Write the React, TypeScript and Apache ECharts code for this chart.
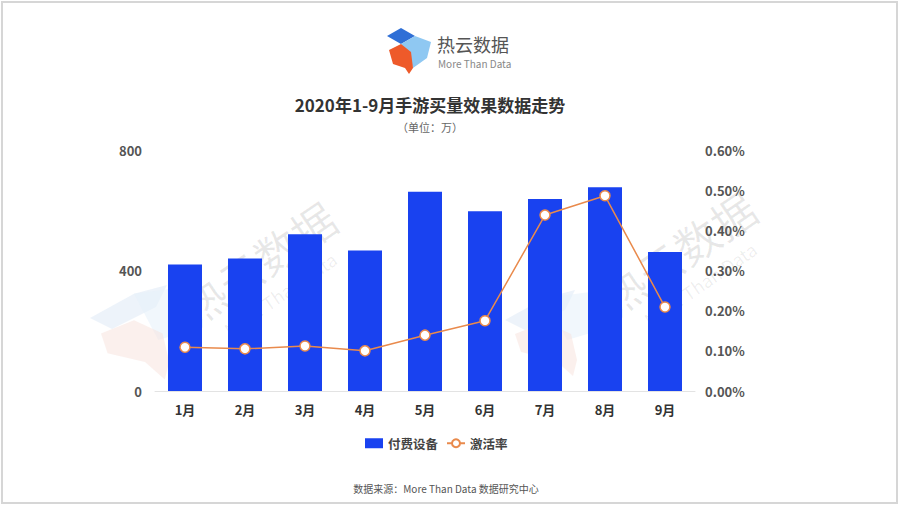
import React, { useEffect, useRef } from "react";
import * as echarts from "echarts";

const months = ["1月", "2月", "3月", "4月", "5月", "6月", "7月", "8月", "9月"];
const paidDevices = [420, 440, 520, 466, 661, 597, 637, 676, 461];
const activationRate = [0.109, 0.105, 0.112, 0.1, 0.139, 0.175, 0.438, 0.486, 0.209];
const leftTicks = { min: 0, max: 800, interval: 400 };
const rightTicks = { min: 0, max: 0.6, interval: 0.1 };

const FONT = "'Noto Sans CJK SC', 'Noto Sans', sans-serif";

function logoShapes(x: number, y: number, s: number, opacity: number) {
  const p = (pts: number[][]) => pts.map(([a, b]) => [x + a * s, y + b * s]);
  return [
    {
      type: "polygon",
      shape: { points: p([[0, 8], [14, 0], [28, 8], [14, 16]]) },
      style: { fill: "#2f6fd6", opacity },
      silent: true,
    },
    {
      type: "polygon",
      shape: { points: p([[14, 16], [28, 8], [44, 14], [40, 30], [26, 40], [22, 28]]) },
      style: { fill: "#8fc8f2", opacity },
      silent: true,
    },
    {
      type: "polygon",
      shape: { points: p([[2, 22], [14, 16], [24, 24], [26, 40], [22, 46], [18, 40], [6, 36]]) },
      style: { fill: "#ee5a2a", opacity },
      silent: true,
    },
  ];
}

function watermarkLogo(x: number, y: number, s: number) {
  const p = (pts: number[][]) => pts.map(([a, b]) => [x + a * s, y + b * s]);
  return [
    {
      type: "polygon",
      shape: { points: p([[0, 30], [40, 8], [70, 0], [60, 20], [20, 40]]) },
      style: { fill: "#d6e5f5", opacity: 0.45 },
      silent: true,
    },
    {
      type: "polygon",
      shape: { points: p([[40, 8], [100, 0], [96, 40], [62, 50]]) },
      style: { fill: "#e6f0fa", opacity: 0.55 },
      silent: true,
    },
    {
      type: "polygon",
      shape: { points: p([[10, 44], [40, 32], [66, 44], [72, 70], [68, 86], [50, 70], [16, 62]]) },
      style: { fill: "#f7e2dc", opacity: 0.5 },
      silent: true,
    },
  ];
}

function watermarkText(cx: number, cy: number) {
  return [
    {
      type: "text",
      x: cx,
      y: cy,
      rotation: 0.6,
      style: {
        text: "热云数据",
        font: `44px ${FONT}`,
        fill: "rgba(0,0,0,0.09)",
        align: "center",
        verticalAlign: "middle",
      },
      silent: true,
    },
    {
      type: "text",
      x: cx + 22,
      y: cy + 32,
      rotation: 0.6,
      style: {
        text: "More Than Data",
        font: `18px ${FONT}`,
        fill: "rgba(0,0,0,0.07)",
        align: "center",
        verticalAlign: "middle",
      },
      silent: true,
    },
  ];
}

export default function App() {
  const ref = useRef<HTMLDivElement>(null);
  useEffect(() => {
    if (!ref.current) return;
    const chart = echarts.init(ref.current, null, { renderer: "svg" });
    chart.setOption({
      animation: false,
      backgroundColor: "#ffffff",
      textStyle: { fontFamily: FONT },
      graphic: [
        {
          type: "rect",
          shape: { x: 2, y: 2, width: 895, height: 501 },
          style: { fill: "none", stroke: "#d6d6d6", lineWidth: 2 },
          silent: true,
          z: -10,
        },
        ...watermarkLogo(90, 285, 1.1),
        ...watermarkLogo(505, 290, 1.0),
        ...watermarkText(258, 262),
        ...watermarkText(678, 252),
        ...logoShapes(387, 28, 1.0, 1),
        {
          type: "text",
          x: 437,
          y: 44,
          style: {
            text: "热云数据",
            font: `18px ${FONT}`,
            fill: "#555555",
            verticalAlign: "middle",
          },
        },
        {
          type: "text",
          x: 438,
          y: 63,
          style: {
            text: "More Than Data",
            font: `10px ${FONT}`,
            fill: "#888888",
            verticalAlign: "middle",
          },
        },
        {
          type: "text",
          x: 430,
          y: 104,
          style: {
            text: "2020年1-9月手游买量效果数据走势",
            font: `bold 17px ${FONT}`,
            fill: "#333333",
            align: "center",
            verticalAlign: "middle",
          },
        },
        {
          type: "text",
          x: 430,
          y: 127,
          style: {
            text: "（单位：万）",
            font: `11px ${FONT}`,
            fill: "#666666",
            align: "center",
            verticalAlign: "middle",
          },
        },
        {
          type: "text",
          x: 446,
          y: 488,
          style: {
            text: "数据来源：More Than Data 数据研究中心",
            font: `10px ${FONT}`,
            fill: "#555555",
            align: "center",
            verticalAlign: "middle",
          },
        },
      ],
      legend: {
        left: 360,
        top: 432,
        itemWidth: 18,
        itemHeight: 10,
        itemGap: 8,
        textStyle: { fontSize: 12.5, fontWeight: "bold", color: "#444", fontFamily: FONT },
        data: [
          { name: "付费设备", icon: "rect" },
          { name: "激活率" },
        ],
      },
      grid: { left: 155, right: 205, top: 150, bottom: 115 },
      xAxis: {
        type: "category",
        data: months,
        axisLine: { lineStyle: { color: "#e3e3e3" } },
        axisTick: { show: false },
        axisLabel: { color: "#333", fontSize: 13, fontWeight: "bold", margin: 12 },
      },
      yAxis: [
        {
          type: "value",
          min: leftTicks.min,
          max: leftTicks.max,
          interval: leftTicks.interval,
          splitLine: { show: false },
          axisLine: { show: false },
          axisTick: { show: false },
          axisLabel: { color: "#555", fontSize: 13, fontWeight: "bold", margin: 13 },
        },
        {
          type: "value",
          min: rightTicks.min,
          max: rightTicks.max,
          interval: rightTicks.interval,
          splitLine: { show: false },
          axisLine: { show: false },
          axisTick: { show: false },
          axisLabel: {
            color: "#555",
            fontSize: 13,
            fontWeight: "bold",
            margin: 10,
            formatter: (v: number) => v.toFixed(2) + "%",
          },
        },
      ],
      series: [
        {
          name: "付费设备",
          type: "bar",
          data: paidDevices,
          barWidth: 34,
          itemStyle: { color: "#1942f0" },
          yAxisIndex: 0,
        },
        {
          name: "激活率",
          type: "line",
          data: activationRate,
          yAxisIndex: 1,
          symbol: "circle",
          symbolSize: 10,
          lineStyle: { color: "#e98a4c", width: 1.5 },
          itemStyle: { color: "#ffffff", borderColor: "#e98a4c", borderWidth: 1.5 },
        },
      ],
    });
    return () => chart.dispose();
  }, []);
  return (
    <div
      ref={ref}
      style={{ position: "fixed", left: 0, top: 0, width: 900, height: 506 }}
    />
  );
}
